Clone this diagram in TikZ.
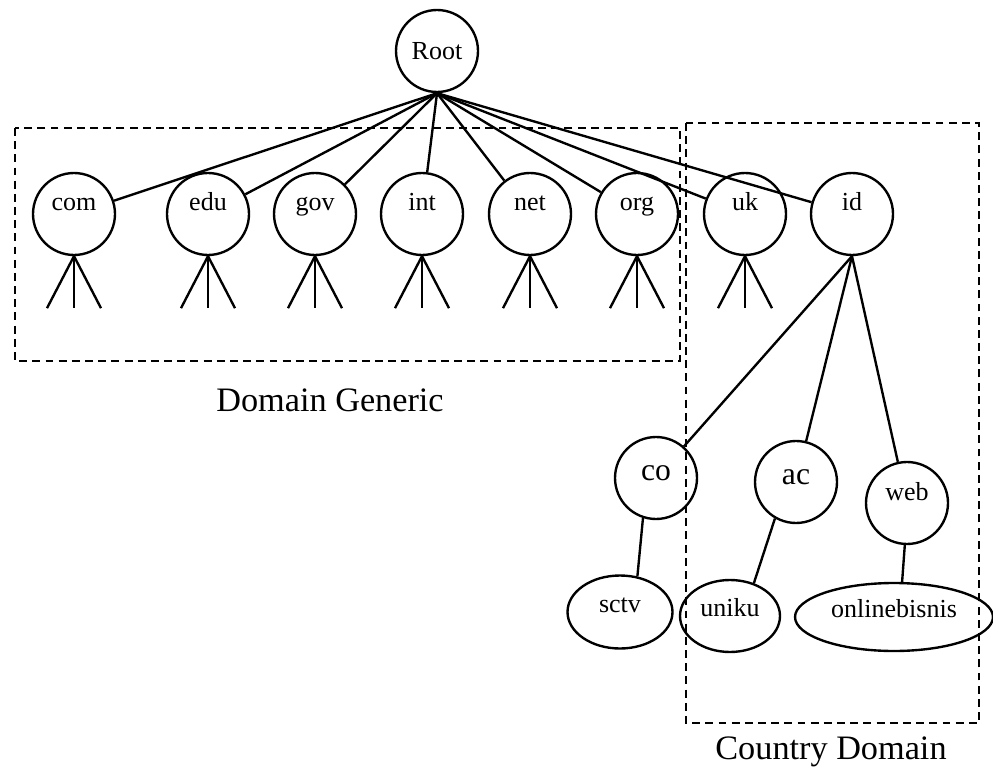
\documentclass[tikz,border=0pt]{standalone}
\usepackage{fontspec}
\setmainfont{Liberation Serif}
\usetikzlibrary{shapes.geometric,positioning,calc}

\begin{document}
\begin{tikzpicture}[x=0.02cm, y=-0.02cm, line width=1.35pt]
	\tikzstyle{dom} = [circle, draw=black, minimum size=1.64cm, inner sep=0pt,
	font=\fontsize{14.8}{16}\selectfont, text height=0.4cm, text depth=0.52cm]
	\tikzstyle{bigdom} = [dom, font=\fontsize{18}{20}\selectfont, text depth=0.3cm]
	\tikzstyle{host} = [ellipse, draw=black, inner sep=0pt,
	font=\fontsize{14.8}{16}\selectfont, text height=0.4cm, text depth=0.38cm]
	\tikzstyle{area} = [draw=black, line width=1.1pt, dash pattern=on 4.5pt off 3pt]
	\tikzstyle{caption} = [font=\fontsize{19.5}{22}\selectfont]
	\useasboundingbox (0,0) rectangle (993,773);
	% root
	\node (root) at (437,51) [dom, text height=, text depth=] {Root};
	% top level
	\node (com) at (74,214) [dom] {com};
	\node (edu) at (208,214) [dom] {edu};
	\node (gov) at (315,214) [dom] {gov};
	\node (int) at (422,214) [dom] {int};
	\node (net) at (530,214) [dom] {net};
	\node (org) at (637,214) [dom] {org};
	\node (uk) at (745,214) [dom] {uk};
	\node (id) at (852,214) [dom] {id};
	\foreach \n in {com,edu,gov,int,net,org,uk,id}
		\draw (root.south) -- (\n);
	\foreach \n in {com,edu,gov,int,net,org,uk}{
		\draw (\n.south) -- +(-27,52);
		\draw (\n.south) -- +(0,52);
		\draw (\n.south) -- +(27,52);
	}
	% second level
	\node (co) at (656,478) [bigdom] {co};
	\node (ac) at (796,482) [bigdom] {ac};
	\node (web) at (907,503) [dom] {web};
	\draw (id.south) -- (co);
	\draw (id.south) -- (ac);
	\draw (id.south) -- (web);
	% hosts
	\node (sctv) at (620,612) [host, minimum width=2.1cm, minimum height=1.46cm] {sctv};
	\node (uniku) at (730,616) [host, minimum width=2.0cm, minimum height=1.44cm] {uniku};
	\node (onlinebisnis) at (894,617) [host, minimum width=3.96cm, minimum height=1.36cm] {onlinebisnis};
	\draw (co.252) -- (sctv.64);
	\draw (ac.240) -- (uniku.54);
	\draw (web.267) -- (onlinebisnis.77);

	% dashed areas
	\draw[area] (15,128) rectangle (680,361);
	\draw[area] (686,123) rectangle (979,723);
	\node (generic) at (330,400) [caption] {Domain Generic};
	\node (country) at (831,752) [caption] {Country Domain};
\end{tikzpicture}
\end{document}
